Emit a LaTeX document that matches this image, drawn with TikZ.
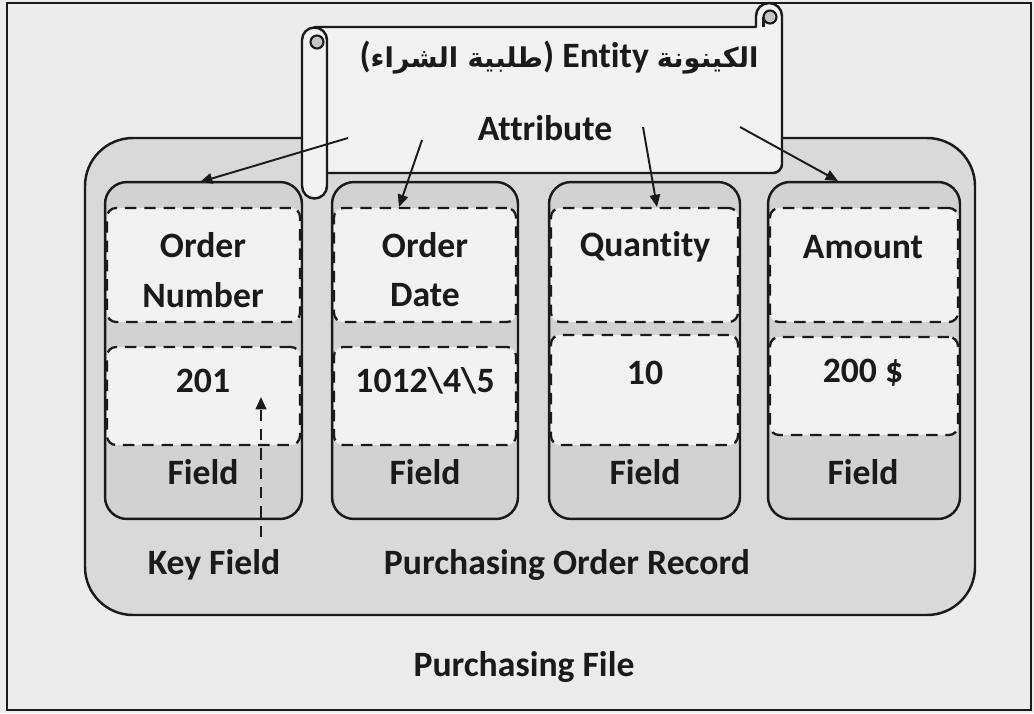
\documentclass[tikz,border=0pt]{standalone}
\usepackage{fontspec}
\setmainfont{Carlito}[Ligatures=NoCommon, RawFeature=-calt]
\newfontfamily\arabicfont[Script=Arabic]{DejaVu Sans}
\TeXXeTstate=1
\usetikzlibrary{arrows.meta}
\definecolor{pagebg}{HTML}{ECECEC}
\definecolor{recgray}{HTML}{D9D9D9}
\definecolor{boxgray}{HTML}{D2D2D2}
\definecolor{lightfill}{HTML}{F2F2F2}
\definecolor{curlgray}{HTML}{C4C4C4}
\definecolor{ink}{HTML}{1A1A1A}
\newcommand{\arb}[1]{{\arabicfont\fontsize{15.5}{19}\selectfont\bfseries\beginR #1\endR}}
\tikzset{
  lbl/.style={font=\fontsize{20.3}{24}\selectfont\bfseries, text=ink, inner sep=0pt},
  recordbox/.style={draw=ink, fill=recgray, line width=1.4pt, rounded corners=0.96cm},
  fieldbox/.style={draw=ink, fill=boxgray, line width=1.4pt, rounded corners=0.44cm, minimum height=6.74cm, inner sep=0pt},
  dashbox/.style={draw=ink, fill=lightfill, line width=1.3pt, dash pattern=on 6.5pt off 4.5pt, rounded corners=0.18cm, inner sep=0pt},
  scrollst/.style={draw=ink, fill=lightfill, line width=1.4pt, line join=round},
  pointer/.style={draw=ink, line width=1.1pt, -{Triangle[length=7pt,width=6pt]}},
  keyptr/.style={draw=ink, line width=1.3pt, dash pattern=on 6.5pt off 4.5pt, -{Triangle[length=7pt,width=6pt]}}
}
\begin{document}
\begin{tikzpicture}[x=0.02cm, y=-0.02cm]
\useasboundingbox (0,0) rectangle (1034,713);
% page
\fill[pagebg] (0,0) rectangle (1034,713);
\draw[ink, line width=1.2pt] (7,3) rectangle (1031,710);
% record
\draw[recordbox] (85,138) rectangle (975,615);
% field boxes
\node[fieldbox, minimum width=3.94cm] (f1) at (203.5,350.5) {};
\node[fieldbox, minimum width=3.72cm] (f2) at (425,350.5) {};
\node[fieldbox, minimum width=3.82cm] (f3) at (644.5,350.5) {};
\node[fieldbox, minimum width=3.84cm] (f4) at (864,350.5) {};
% dashed attribute boxes
\node[dashbox, minimum width=3.86cm, minimum height=2.28cm] (d1a) at (203.5,265) {};
\node[dashbox, minimum width=3.64cm, minimum height=2.28cm] (d2a) at (425,265) {};
\node[dashbox, minimum width=3.74cm, minimum height=2.28cm] (d3a) at (644.5,265) {};
\node[dashbox, minimum width=3.76cm, minimum height=2.28cm] (d4a) at (864,265) {};
% dashed value boxes
\node[dashbox, minimum width=3.86cm, minimum height=1.96cm] (d1b) at (203.5,396) {};
\node[dashbox, minimum width=3.64cm, minimum height=1.96cm] (d2b) at (425,396) {};
\node[dashbox, minimum width=3.74cm, minimum height=2.2cm] (d3b) at (644.5,390) {};
\node[dashbox, minimum width=3.76cm, minimum height=1.96cm] (d4b) at (864,386) {};
% texts in boxes
\node[lbl] (t1a) at (203,245) {Order};
\node[lbl] (t1b) at (203,295) {Number};
\node[lbl] (t2a) at (425,245) {Order};
\node[lbl] (t2b) at (425,295) {Date};
\node[lbl] (t3a) at (645,247) {Quantity};
\node[lbl] (t4a) at (863,247) {Amount};
\node[lbl] (v1) at (203,381) {201};
\node[lbl] (v2) at (425,381) {1012\textbackslash 4\textbackslash 5};
\node[lbl] (v3) at (645,373) {10};
\node[lbl] (v4) at (863,373) {200 \$};
\node[lbl] (fl1) at (203,472) {Field};
\node[lbl] (fl2) at (425,472) {Field};
\node[lbl] (fl3) at (645,472) {Field};
\node[lbl] (fl4) at (863,472) {Field};
% bottom labels
\node[lbl] (key) at (214,565) {Key Field};
\node[lbl] (rec) at (567,565) {Purchasing Order Record};
\node[lbl] (file) at (524,667) {Purchasing File};
% scroll body
\draw[scrollst] (315,27) -- (756,27) -- (756,16) arc (180:360:13)
  [rounded corners=0.18cm] -- (782,173) -- (315,173) [sharp corners] -- cycle;
\draw[ink, line width=1.2pt, fill=curlgray] (770,17) circle (6.5);
\draw[ink, line width=1.2pt] (763.5,17) -- (763.5,27);
% left roll
\draw[scrollst] (302,40) -- (302,186) arc (180:0:12.5) -- (327,40) arc (0:-180:12.5) -- cycle;
\draw[ink, line width=1.2pt, fill=curlgray] (317,42) circle (6.5);
% scroll texts
\node[lbl] (title) at (559,58)
  {(\arb{طلبية الشراء})\ Entity\ \arb{الكينونة}};
\node[lbl] (attr) at (545,128) {Attribute};
% pointer start/end coordinates
\coordinate (s1) at (348,138);
\coordinate (s2) at (422,140);
\coordinate (s3) at (643,127);
\coordinate (s4) at (740,127);
\coordinate (e1) at (200,182);
\coordinate (e2) at (399,207);
\coordinate (e3) at (657,207);
\coordinate (e4) at (838,181);
\coordinate (k0) at (261,537);
\coordinate (k1) at (261,397);
\draw[pointer] (s1) -- (e1);
\draw[pointer] (s2) -- (e2);
\draw[pointer] (s3) -- (e3);
\draw[pointer] (s4) -- (e4);
\draw[keyptr] (k0) -- (k1);
\end{tikzpicture}
\end{document}
